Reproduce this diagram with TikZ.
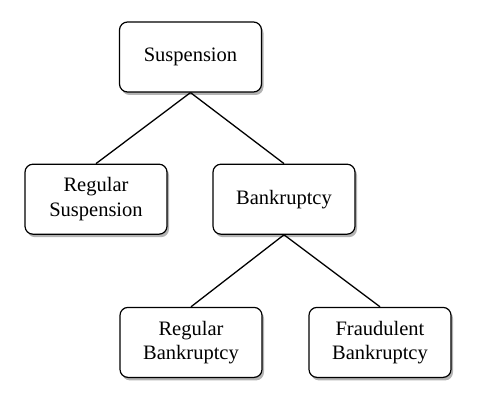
\documentclass[tikz,border=0pt]{standalone}
\usepackage{fontspec}
\setmainfont{Liberation Serif}
\newfontfamily\boxfont{Liberation Serif}
\usetikzlibrary{positioning,shadows}
\tikzset{
  box/.style={
    draw, rounded corners=8pt, align=center, fill=white, line width=1.2pt,
    minimum width=142pt, minimum height=70pt, inner sep=2pt,
    font=\boxfont\fontsize{20.5}{24.5}\selectfont,
    drop shadow={shadow xshift=2pt, shadow yshift=-3pt, fill=black!50, opacity=0.6},
  },
  link/.style={line width=1.3pt},
}

\begin{document}
\begin{tikzpicture}[x=1pt, y=1pt]
\useasboundingbox (0,0) rectangle (477,-404);

\node[box] (susp) at (190.5,-57) {Suspension};
\node[box, below=71pt of susp, xshift=-94.5pt] (regsusp) {Regular\\Suspension};
\node[box, below=71pt of susp, xshift=93.5pt] (bank) {Bankruptcy};
\node[box, below=72pt of bank, xshift=-93pt] (regbank) {Regular\\Bankruptcy};
\node[box, below=72pt of bank, xshift=96pt] (fraud) {Fraudulent\\Bankruptcy};

\draw[link] (susp.south) -- (regsusp.north);
\draw[link] (susp.south) -- (bank.north);
\draw[link] (bank.south) -- (regbank.north);
\draw[link] (bank.south) -- (fraud.north);

\end{tikzpicture}
\end{document}
